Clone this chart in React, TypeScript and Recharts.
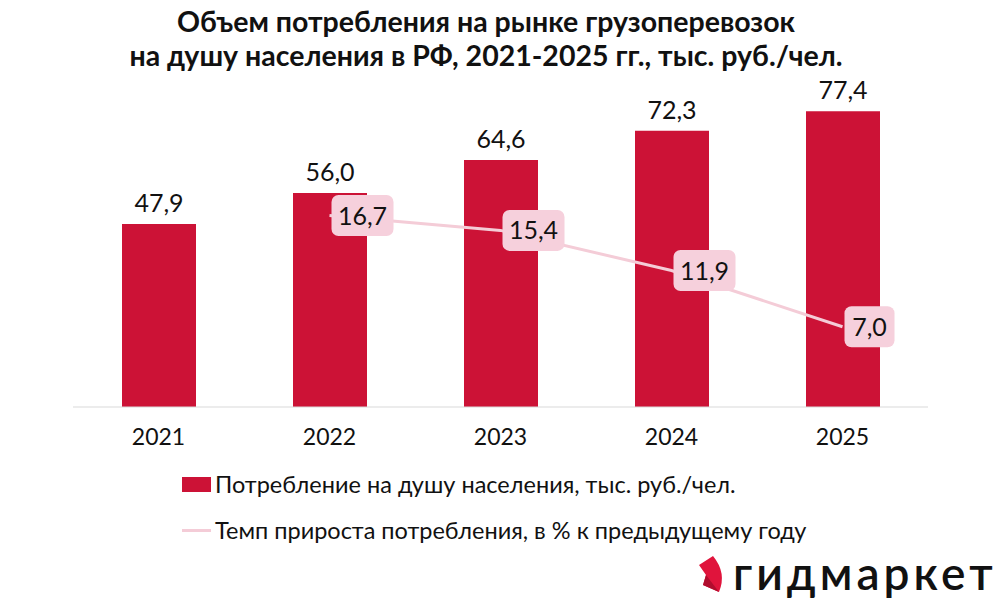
import { ComposedChart, Bar, Line, XAxis, YAxis, LabelList } from 'recharts'

const years = ['2021', '2022', '2023', '2024', '2025']
const perCapita = [47.9, 56.0, 64.6, 72.3, 77.4]
const growth = [null, 16.7, 15.4, 11.9, 7.0]

const BAR_COLOR = '#CC1236'
const LINE_COLOR = '#F4CCD7'
const LABEL_BG = '#F6D0DC'
const FONT = 'Lato, "Open Sans", sans-serif'

const data = years.map((y, i) => ({ year: y, value: perCapita[i], growth: growth[i] }))

const fmt = (v: number) => v.toFixed(1).replace('.', ',')

const GrowthLabel = (props: any) => {
  const { x, y, value } = props
  if (value == null) return null
  const text = fmt(value)
  const w = text.length * 12 + 14
  const h = 41
  return (
    <g>
      <rect x={x + 2} y={y - h / 2} width={w} height={h} rx={7} fill={LABEL_BG} />
      <text x={x + 2 + w / 2} y={y + 9} textAnchor="middle" fontSize={25} fill="#111" fontFamily={FONT}>
        {text}
      </text>
    </g>
  )
}

export default function App() {
  return (
    <div style={{ position: 'absolute', left: 0, top: 0, width: 1000, height: 600, background: '#fff', fontFamily: FONT }}>
      <div
        style={{
          position: 'absolute',
          top: 4,
          left: 0,
          width: 972,
          textAlign: 'center',
          fontWeight: 700,
          fontSize: 28.5,
          lineHeight: '34px',
          color: '#111',
        }}
      >
        Объем потребления на рынке грузоперевозок
        <br />
        на душу населения в РФ, 2021-2025 гг., тыс. руб./чел.
      </div>
      <ComposedChart
        width={1000}
        height={600}
        data={data}
        margin={{ top: 63, right: 72, bottom: 153, left: 73 }}
        style={{ position: 'absolute', left: 0, top: 0 }}
      >
        <XAxis
          dataKey="year"
          height={40}
          axisLine={{ stroke: '#D9D9D9' }}
          tickLine={false}
          tick={{ fill: '#111', fontSize: 23, fontFamily: FONT }}
          dy={14}
        />
        <YAxis yAxisId="l" hide domain={[0, 90]} />
        <YAxis yAxisId="r" hide orientation="right" domain={[0, 30]} />
        <Bar yAxisId="l" dataKey="value" fill={BAR_COLOR} barSize={74} isAnimationActive={false}>
          <LabelList
            dataKey="value"
            position="top"
            offset={12}
            formatter={(v: any) => fmt(Number(v))}
            style={{ fill: '#111', fontSize: 25, fontFamily: FONT }}
          />
        </Bar>
        <Line
          yAxisId="r"
          dataKey="growth"
          stroke={LINE_COLOR}
          strokeWidth={3}
          dot={false}
          connectNulls={false}
          isAnimationActive={false}
        >
          <LabelList dataKey="growth" content={<GrowthLabel />} />
        </Line>
      </ComposedChart>
      <div
        style={{
          position: 'absolute',
          left: 182,
          top: 471,
          fontSize: 23.5,
          color: '#111',
          lineHeight: '26px',
        }}
      >
        <div style={{ display: 'flex', alignItems: 'center' }}>
          <span style={{ width: 29, height: 15, background: BAR_COLOR, display: 'inline-block', marginRight: 4 }} />
          Потребление на душу населения, тыс. руб./чел.
        </div>
        <div style={{ display: 'flex', alignItems: 'center', marginTop: 20 }}>
          <span style={{ width: 29, height: 3, background: LINE_COLOR, display: 'inline-block', marginRight: 4 }} />
          Темп прироста потребления, в % к предыдущему году
        </div>
      </div>
      <svg width={320} height={60} style={{ position: 'absolute', left: 690, top: 545 }}>
        <path d="M9 20 L23 11 Q37 28 29 47 L13 40 L16 30 Z" fill="#E0143C" />
        <path d="M16 30 L29 47 L13 40 Z" fill="#B00D2E" />
        <text x={43} y={45} fontSize={46} fontWeight={600} fill="#111" fontFamily={FONT} letterSpacing={4}>
          гидмаркет
        </text>
      </svg>
    </div>
  )
}
